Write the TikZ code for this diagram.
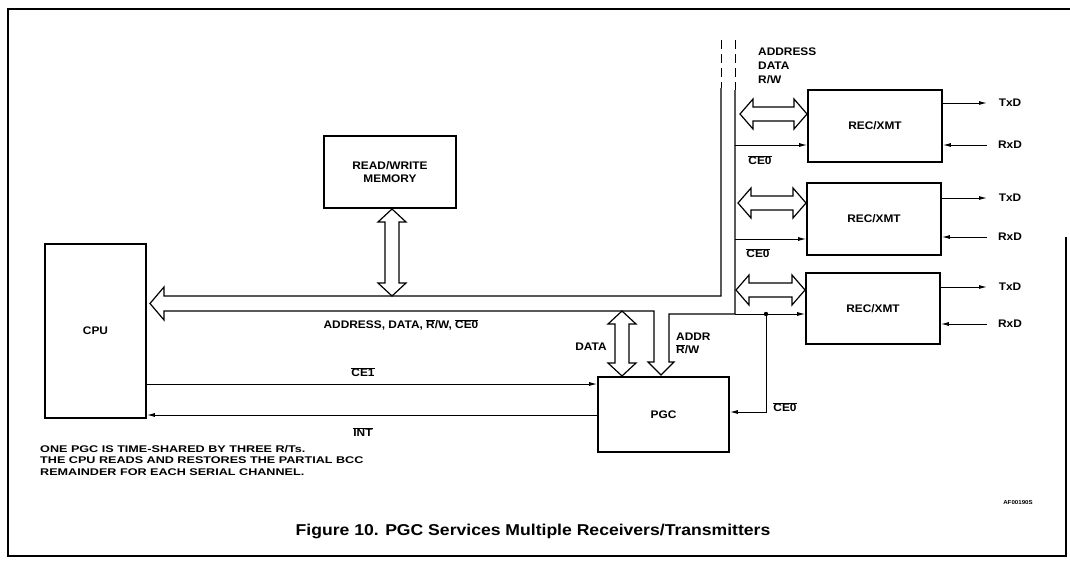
\documentclass[tikz,border=0pt]{standalone}
\usepackage{fontspec}
\setmainfont[FakeStretch=1.08]{Liberation Sans}
\newfontfamily\notefont[FakeStretch=1.3]{Liberation Sans}
\newfontfamily\capfont[FakeStretch=1.12]{Liberation Sans}
\usetikzlibrary{arrows.meta}
\newcommand\ovl[1]{$\overline{\hbox{#1}}$}
\newcommand\vdarr[3]{\draw[hol] (#1,#2) -- (#1+14,#2+13) -- (#1+7,#2+13) -- (#1+7,#3-13) -- (#1+14,#3-13) -- (#1,#3) -- (#1-14,#3-13) -- (#1-7,#3-13) -- (#1-7,#2+13) -- (#1-14,#2+13) -- cycle;}
\newcommand\hdarr[3]{\draw[hol] (#1,#3) -- (#1+13,#3-15) -- (#1+13,#3-7) -- (#2-13,#3-7) -- (#2-13,#3-15) -- (#2,#3) -- (#2-13,#3+15) -- (#2-13,#3+7) -- (#1+13,#3+7) -- (#1+13,#3+15) -- cycle;}
\tikzset{
  box/.style={draw, line width=1.6pt, inner sep=0pt},
  sig/.style={line width=1pt, -{Latex[length=8pt,width=4pt]}},
  hol/.style={line width=1.2pt, line join=miter},
  lbl/.style={inner sep=0pt},
  busdash/.style={line width=1pt, dash pattern=on 9pt off 5pt},
}
\begin{document}
\begin{tikzpicture}[x=1pt,y=-1pt,font=\bfseries\fontsize{11}{12}\selectfont]
\useasboundingbox (0,0) rectangle (1070,568);
% frame
\draw[line width=1.2pt] (1066,237) -- (1066,556) -- (8,556) -- (8,9) -- (1070,9);
% blocks
\node[box, minimum width=101, minimum height=174] (cpu) at (95.5,331) {CPU};
\node[box, minimum width=132, minimum height=72, align=center, font=\bfseries\fontsize{11}{13}\selectfont] (mem) at (390,172) {READ/WRITE\\MEMORY};
\node[box, minimum width=131, minimum height=75] (pgc) at (663.5,414.5) {PGC};
\node[box, minimum width=134, minimum height=72] (rec1) at (875,126) {REC/XMT};
\node[box, minimum width=134, minimum height=72] (rec2) at (874,219) {REC/XMT};
\node[box, minimum width=134, minimum height=71] (rec3) at (873,308.5) {REC/XMT};
% bus
\coordinate (busL) at (721,88);
\coordinate (busR) at (735,90);
\coordinate (j3) at (735,314);
\coordinate (dot) at (766,314);
\draw[busdash] (721,40) -- (busL);
\draw[busdash] (735,40) -- (busR);
\draw[hol] (busL) -- (721,296) -- (164,296) -- (164,287) -- (150,303.5) -- (164,320) -- (164,311) -- (654,311) -- (654,362) -- (648,362) -- (661,375) -- (674,362) -- (669,362) -- (669,314) -- (j3) -- (busR);
\vdarr{392}{209}{296}
\vdarr{622}{311}{376}
\hdarr{740}{807}{114}
\hdarr{738}{806}{203}
\hdarr{736}{805}{290}
% chip enables
\draw[sig] (j3) -- (rec3.west |- j3);
\fill (dot) circle (2.2);
\draw[sig] (dot) |- (pgc.east |- 0,412);
\draw[sig] (735,145) -- (rec1.west |- 0,145);
\draw[sig] (735,239) -- (rec2.west |- 0,239);
\draw[sig] (cpu.east |- 0,384) -- (pgc.west |- 0,384);
\draw[sig] (pgc.west |- 0,415) -- (cpu.east |- 0,415);
% serial lines
\draw[sig] (rec1.east |- 0,103) -- (987,103);
\draw[sig] (987,145) -- (rec1.east |- 0,145);
\draw[sig] (rec2.east |- 0,198) -- (987,198);
\draw[sig] (987,237) -- (rec2.east |- 0,237);
\draw[sig] (rec3.east |- 0,287) -- (987,287);
\draw[sig] (987,324) -- (rec3.east |- 0,324);
\node[lbl] (tx1) at (1010,103) {TxD};
\node[lbl] (rx1) at (1010,145) {RxD};
\node[lbl] (tx2) at (1010,198) {TxD};
\node[lbl] (rx2) at (1010,237) {RxD};
\node[lbl] (tx3) at (1010,287) {TxD};
\node[lbl] (rx3) at (1010,324) {RxD};
% labels
\node[lbl, anchor=west, align=left, font=\bfseries\fontsize{11}{14}\selectfont] (toplbl) at (758,66) {ADDRESS\\DATA\\R/W};
\node[lbl] (ce0a) at (760,160) {\ovl{CE0}};
\node[lbl] (ce0b) at (758,253) {\ovl{CE0}};
\node[lbl] (ce0c) at (785,407) {\ovl{CE0}};
\node[lbl] (buslbl) at (401,325) {ADDRESS, DATA, \ovl{R}/W, \ovl{CE0}};
\node[lbl] (datalbl) at (591,347) {DATA};
\node[lbl, anchor=west, align=left, font=\bfseries\fontsize{11}{13}\selectfont] (addrlbl) at (676,343.5) {ADDR\\\ovl{R}/W};
\node[lbl] (ce1lbl) at (363,372) {\ovl{CE1}};
\node[lbl] (intlbl) at (363,432) {\ovl{INT}};
\node[lbl, anchor=north west, align=left, font=\notefont\bfseries\fontsize{9.7}{11.7}\selectfont] (note) at (40,445) {ONE PGC IS TIME-SHARED BY THREE R/Ts.\\THE CPU READS AND RESTORES THE PARTIAL BCC\\REMAINDER FOR EACH SERIAL CHANNEL.};
\node[lbl, font=\bfseries\fontsize{5.7}{7}\selectfont] (af) at (1018,503) {AF00190S};
\node[lbl, font=\capfont\bfseries\fontsize{15.7}{17}\selectfont] (cap) at (533,531) {Figure 10. PGC Services Multiple Receivers/Transmitters};
\end{tikzpicture}
\end{document}
